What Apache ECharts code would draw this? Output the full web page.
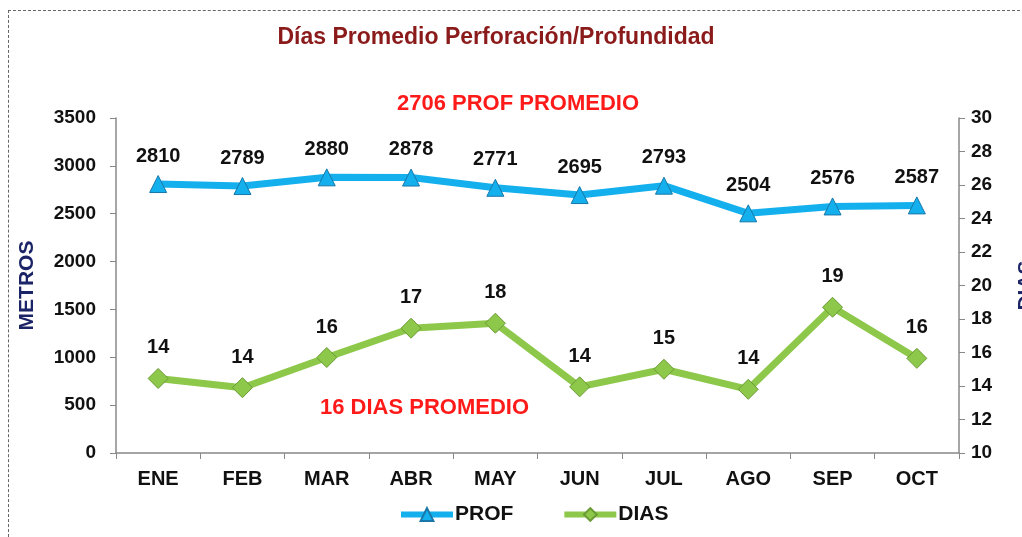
<!DOCTYPE html>
<html>
<head>
<meta charset="utf-8">
<script src="https://cdn.jsdelivr.net/npm/echarts@6/dist/echarts.min.js"></script>
<style>
  html, body { margin: 0; padding: 0; background: #fff; }
  .frame {
    position: absolute; left: 8px; top: 10px; width: 1030px; height: 540px;
    border: 1px dashed #666;
  }
  #chart { position: absolute; left: 0; top: 0; width: 1022px; height: 537px; }
</style>
</head>
<body>
<div class="frame"></div>
<div id="chart"></div>
<script>
const meses = ['ENE', 'FEB', 'MAR', 'ABR', 'MAY', 'JUN', 'JUL', 'AGO', 'SEP', 'OCT']
const prof = [2810, 2789, 2880, 2878, 2771, 2695, 2793, 2504, 2576, 2587]
// dias con decimales (posicion), etiquetas redondeadas como en el original
const dias = [14.45, 13.9, 15.7, 17.45, 17.75, 13.95, 15.0, 13.8, 18.7, 15.65]
const diasLabels = [14, 14, 16, 17, 18, 14, 15, 14, 19, 16]

const FONT = 'Liberation Sans, Arial, sans-serif'
const chart = echarts.init(document.getElementById('chart'))

chart.setOption({
  animation: false,
  textStyle: { fontFamily: FONT },
  title: {
    text: 'Días Promedio Perforación/Profundidad',
    left: 491, top: 21, textAlign: 'center',
    textStyle: { color: '#8b1a1a', fontSize: 23, fontWeight: 'bold', fontFamily: FONT }
  },
  graphic: [
    {
      type: 'text', left: 397, top: 93,
      style: { text: '2706 PROF PROMEDIO', fill: '#ff1a1a', font: 'bold 22px ' + FONT }
    },
    {
      type: 'text', left: 320, top: 397,
      style: { text: '16 DIAS PROMEDIO', fill: '#ff1a1a', font: 'bold 22px ' + FONT }
    }
  ],
  grid: { left: 116, right: 63, top: 118, bottom: 84, outerBoundsMode: 'none' },
  legend: {
    bottom: 7, left: 393, itemGap: 48, itemWidth: 52, itemHeight: 16,
    lineStyle: { width: 6 },
    textStyle: { fontSize: 21, fontWeight: 'bold', color: '#111', fontFamily: FONT, padding: [0, 0, 0, -3] },
    data: ['PROF', 'DIAS']
  },
  xAxis: {
    type: 'category',
    data: meses,
    axisLine: { lineStyle: { color: '#888', width: 1.5 } },
    axisTick: { show: true, length: 6, lineStyle: { color: '#888' } },
    axisLabel: { fontSize: 20, fontWeight: 'bold', color: '#111', margin: 16 }
  },
  yAxis: [
    {
      type: 'value', min: 0, max: 3500, interval: 500,
      name: 'METROS', nameLocation: 'middle', nameGap: 78, nameRotate: 90,
      nameTextStyle: { fontSize: 21, fontWeight: 'bold', color: '#1a2466' },
      axisLine: { show: true, lineStyle: { color: '#888', width: 1.5 } },
      axisTick: { show: true, length: 6, lineStyle: { color: '#888' } },
      splitLine: { show: false },
      axisLabel: { fontSize: 19, fontWeight: 'bold', color: '#111', margin: 20, formatter: v => String(v) }
    },
    {
      type: 'value', min: 10, max: 30, interval: 2,
      name: 'DIAS', nameLocation: 'middle', nameGap: 57, nameRotate: 90,
      nameTextStyle: { fontSize: 21, fontWeight: 'bold', color: '#1a2466' },
      axisLine: { show: true, lineStyle: { color: '#888', width: 1.5 } },
      axisTick: { show: true, length: 6, lineStyle: { color: '#888' } },
      splitLine: { show: false },
      axisLabel: { fontSize: 19, fontWeight: 'bold', color: '#111', margin: 12 }
    }
  ],
  series: [
    {
      name: 'PROF',
      type: 'line',
      yAxisIndex: 0,
      data: prof,
      symbol: 'triangle',
      symbolSize: 17,
      itemStyle: { color: '#14b0ee', borderColor: '#1877a8', borderWidth: 1 },
      lineStyle: { color: '#14b0ee', width: 7 },
      label: {
        show: true, position: 'top', distance: 9,
        fontSize: 20, fontWeight: 'bold', color: '#111'
      }
    },
    {
      name: 'DIAS',
      type: 'line',
      yAxisIndex: 1,
      data: dias,
      symbol: 'diamond',
      symbolSize: 20,
      itemStyle: { color: '#8dc84a', borderColor: '#6a9a35', borderWidth: 1 },
      lineStyle: { color: '#8dc84a', width: 7 },
      label: {
        show: true, position: 'top', distance: 10,
        fontSize: 20, fontWeight: 'bold', color: '#111',
        formatter: p => diasLabels[p.dataIndex]
      }
    }
  ]
})
</script>
</body>
</html>
